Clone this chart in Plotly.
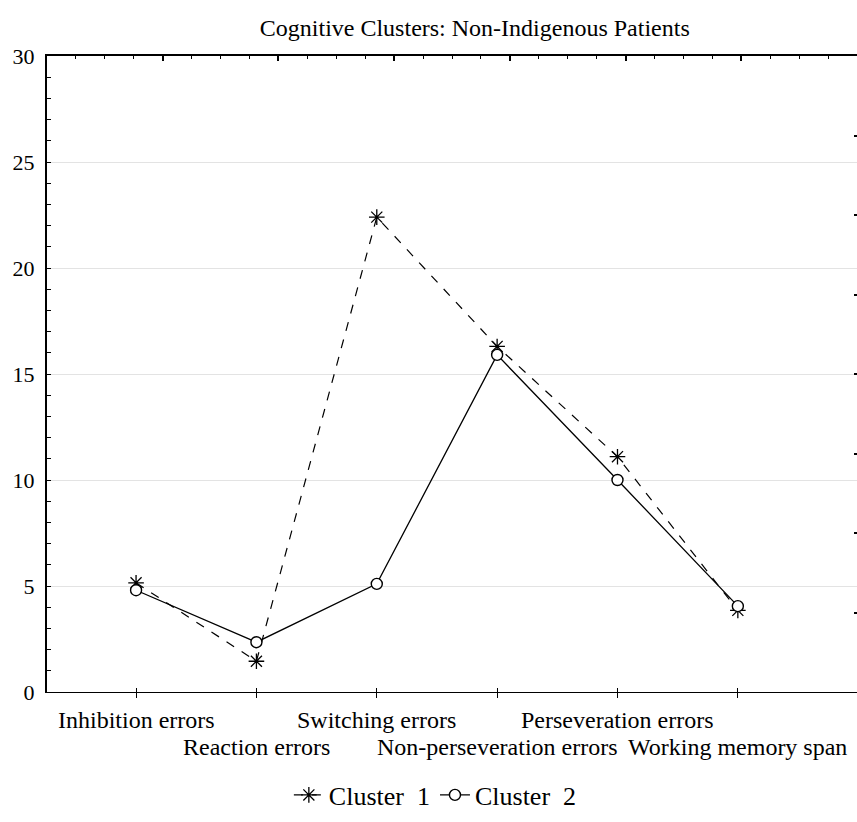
import plotly.graph_objects as go

categories = ["Inhibition errors", "Reaction errors", "Switching errors",
              "Non-perseveration errors", "Perseveration errors", "Working memory span"]
cluster1 = [5.15, 1.45, 22.4, 16.3, 11.1, 3.85]
cluster2 = [4.8, 2.35, 5.1, 15.9, 10.0, 4.05]
y_ticks = [0, 5, 10, 15, 20, 25, 30]

idx = list(range(len(categories)))

FONT = "Liberation Serif, Times New Roman, serif"

fig = go.Figure()
fig.add_trace(go.Scatter(
    x=idx, y=cluster1, mode="lines+markers", name="Cluster  1",
    line=dict(color="black", width=1.2, dash="dash"),
    marker=dict(symbol="asterisk-open", size=13, color="black", line=dict(color="black", width=1.3)),
))
fig.add_trace(go.Scatter(
    x=idx, y=cluster2, mode="lines+markers", name="Cluster  2",
    line=dict(color="black", width=1.3),
    marker=dict(symbol="circle", size=11, color="white", line=dict(color="black", width=1.4)),
))

# category labels, staggered on two rows
for i, c in enumerate(categories):
    fig.add_annotation(x=i, xref="x", y=0, yref="paper", text=c, showarrow=False,
                       xanchor="center", yanchor="middle", yshift=-28 if i % 2 == 0 else -55,
                       font=dict(family=FONT, size=24, color="black"))

xr = [-0.74, 5.99]
fig.update_layout(
    width=857, height=822,
    paper_bgcolor="white", plot_bgcolor="white",
    margin=dict(l=47, r=0, t=56, b=130, autoexpand=False),
    font=dict(family=FONT, size=23, color="black"),
    title=dict(text="Cognitive Clusters: Non-Indigenous Patients", x=0.554, xref="container",
               xanchor="center", y=1 - 28 / 822, yref="container", yanchor="middle",
               font=dict(family=FONT, size=24, color="black")),
    showlegend=True,
    legend=dict(orientation="h", x=0.508, xref="container", xanchor="center",
                y=27 / 822, yref="container", yanchor="middle",
                font=dict(family=FONT, size=26, color="black"), itemwidth=30,
                bgcolor="rgba(0,0,0,0)"),
    xaxis=dict(range=xr, tickmode="array", tickvals=idx, showticklabels=False,
               showgrid=False, zeroline=False, showline=True, linecolor="black", linewidth=1.2,
               ticks="outside", ticklen=5, tickwidth=1, tickcolor="black",
               automargin=False, fixedrange=True),
    xaxis2=dict(range=[0, 7], overlaying="x", side="top", showticklabels=False,
                showgrid=False, zeroline=False, showline=True, linecolor="black", linewidth=2,
                ticks="inside", ticklen=5, tickwidth=1.5, tickcolor="black", dtick=1, tick0=0,
                automargin=False,
                minor=dict(dtick=0.25, ticks="inside", ticklen=3, tickwidth=1.2, tickcolor="black")),
    xaxis3=dict(range=xr, overlaying="x", side="bottom", showticklabels=False,
                tickmode="array", tickvals=idx, showgrid=False, zeroline=False, showline=False,
                ticks="inside", ticklen=4, tickwidth=1, tickcolor="black", automargin=False),
    yaxis=dict(range=[0, 30], tickmode="array", tickvals=y_ticks,
               showgrid=True, gridcolor="#e3e3e3", gridwidth=1, zeroline=False,
               showline=True, linecolor="black", linewidth=2,
               ticks="inside", ticklen=4, tickwidth=1.2, tickcolor="black",
               minor=dict(dtick=1, ticks="inside", ticklen=4, tickwidth=1.2, tickcolor="black", showgrid=False),
               tickfont=dict(family=FONT, size=22), ticklabelstandoff=6,
               automargin=False, fixedrange=True),
    yaxis2=dict(range=[0, 8], overlaying="y", side="right", showticklabels=False,
                showgrid=False, zeroline=False, showline=False, automargin=False,
                ticks="inside", ticklen=3, tickwidth=1.5, tickcolor="black", dtick=1),
)
# phantom traces to activate the decorative axes
fig.add_trace(go.Scatter(x=[None], y=[None], xaxis="x2", yaxis="y", showlegend=False, hoverinfo="skip"))
fig.add_trace(go.Scatter(x=[None], y=[None], xaxis="x3", yaxis="y2", showlegend=False, hoverinfo="skip"))

fig.write_html("out.html", post_script="document.body.style.margin='0';",
               config={"displayModeBar": False})
